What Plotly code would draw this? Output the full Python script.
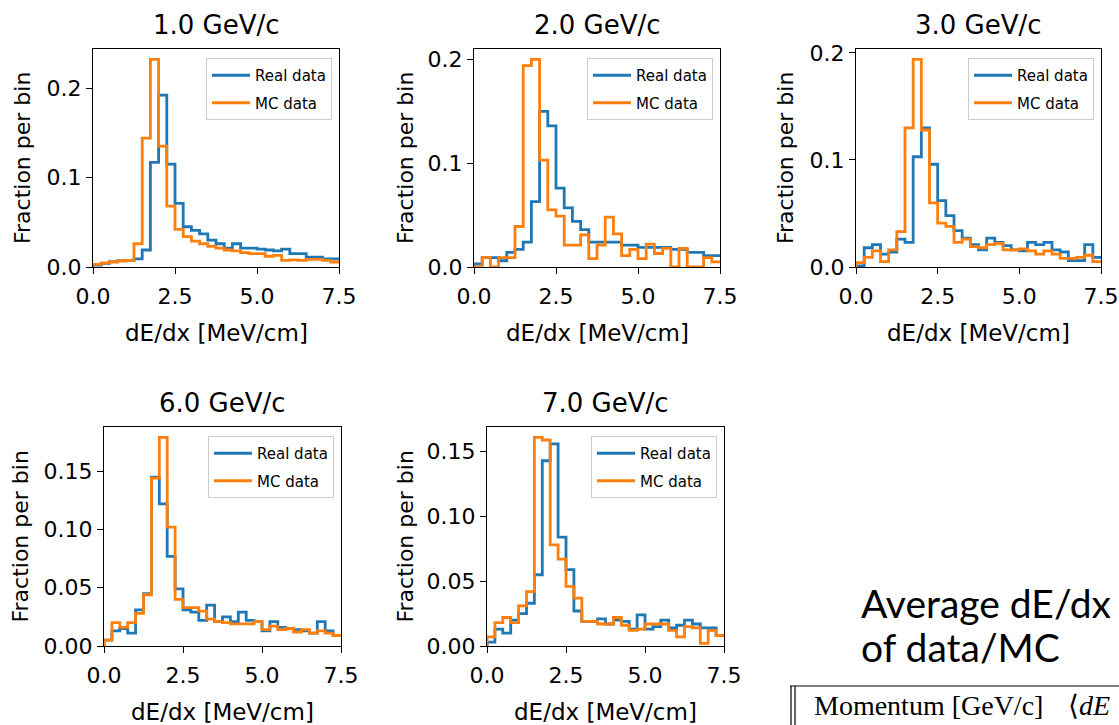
import numpy as np
import plotly.graph_objects as go

W, H = 1119, 725

momenta = ["1.0 GeV/c", "2.0 GeV/c", "3.0 GeV/c", "6.0 GeV/c", "7.0 GeV/c"]
bin_width = 0.25
n_bins = 30

real_1 = [0.002, 0.004, 0.006, 0.007, 0.0075, 0.009, 0.019, 0.117, 0.192, 0.115, 0.071, 0.045, 0.041, 0.037, 0.030,
          0.026, 0.021, 0.026, 0.021, 0.021, 0.020, 0.019, 0.018, 0.020, 0.015, 0.015, 0.011, 0.011, 0.009, 0.009]
mc_1 = [0.003, 0.0045, 0.0056, 0.007, 0.0075, 0.026, 0.144, 0.232, 0.135, 0.068, 0.042, 0.034, 0.029, 0.026, 0.023,
        0.021, 0.019, 0.018, 0.016, 0.015, 0.015, 0.012, 0.013, 0.0075, 0.008, 0.0075, 0.0086, 0.0086, 0.0075, 0.0056]

real_2 = [0.003, 0.009, 0.009, 0.006, 0.014, 0.017, 0.024, 0.063, 0.150, 0.136, 0.076, 0.057, 0.044, 0.036, 0.024,
          0.024, 0.024, 0.024, 0.021, 0.021, 0.019, 0.019, 0.019, 0.019, 0.017, 0.017, 0.014, 0.014, 0.011, 0.011]
mc_2 = [0.0, 0.009, 0.0, 0.009, 0.009, 0.039, 0.194, 0.200, 0.103, 0.055, 0.049, 0.021, 0.021, 0.031, 0.008,
        0.021, 0.048, 0.032, 0.011, 0.017, 0.008, 0.022, 0.013, 0.018, 0.0, 0.018, 0.0, 0.0, 0.009, 0.005]

real_3 = [0.001, 0.018, 0.021, 0.012, 0.014, 0.026, 0.023, 0.103, 0.130, 0.096, 0.062, 0.048, 0.034, 0.027, 0.021,
          0.016, 0.027, 0.023, 0.020, 0.016, 0.015, 0.023, 0.021, 0.023, 0.016, 0.014, 0.006, 0.006, 0.021, 0.009]
mc_3 = [0.004, 0.009, 0.015, 0.005, 0.016, 0.033, 0.130, 0.194, 0.128, 0.060, 0.041, 0.038, 0.023, 0.026, 0.019,
        0.018, 0.021, 0.022, 0.016, 0.016, 0.017, 0.015, 0.012, 0.015, 0.012, 0.008, 0.008, 0.009, 0.011, 0.005]

real_6 = [0.005, 0.013, 0.015, 0.011, 0.031, 0.045, 0.145, 0.122, 0.077, 0.049, 0.031, 0.029, 0.022, 0.035, 0.021,
          0.025, 0.021, 0.029, 0.022, 0.021, 0.013, 0.021, 0.016, 0.015, 0.014, 0.013, 0.011, 0.021, 0.013, 0.009]
mc_6 = [0.005, 0.020, 0.016, 0.020, 0.028, 0.044, 0.144, 0.179, 0.102, 0.040, 0.033, 0.033, 0.030, 0.023, 0.021,
        0.020, 0.019, 0.019, 0.019, 0.021, 0.014, 0.017, 0.014, 0.015, 0.012, 0.014, 0.011, 0.013, 0.011, 0.009]

real_7 = [0.003, 0.013, 0.010, 0.020, 0.025, 0.033, 0.055, 0.143, 0.156, 0.084, 0.059, 0.027, 0.019, 0.019, 0.021,
          0.017, 0.020, 0.019, 0.013, 0.024, 0.013, 0.015, 0.020, 0.014, 0.016, 0.020, 0.017, 0.014, 0.014, 0.008]
mc_7 = [0.007, 0.018, 0.022, 0.018, 0.031, 0.042, 0.161, 0.159, 0.078, 0.067, 0.046, 0.037, 0.019, 0.019, 0.017,
        0.017, 0.022, 0.016, 0.012, 0.013, 0.017, 0.017, 0.017, 0.012, 0.007, 0.015, 0.014, 0.002, 0.012, 0.008]

real_series = [real_1, real_2, real_3, real_6, real_7]
mc_series = [mc_1, mc_2, mc_3, mc_6, mc_7]

x_ticks = [0.0, 2.5, 5.0, 7.5]
y_ticks = [[0.0, 0.1, 0.2], [0.0, 0.1, 0.2], [0.0, 0.1, 0.2],
           [0.0, 0.05, 0.10, 0.15], [0.0, 0.05, 0.10, 0.15]]
y_fmt = [".1f", ".1f", ".1f", ".2f", ".2f"]

# panel boxes in pixels (left, right, top, bottom) and y-title offset
boxes = [(93, 339, 49, 267), (474, 720, 49, 267), (856, 1101, 49, 267),
         (104, 341, 427, 646), (487, 724, 427, 646)]
ytitle_off = [71, 69, 71, 84, 82]

BLUE = "#1f77b4"
ORANGE = "#ff7f0e"
FONT = "DejaVu Sans"

edges = np.arange(n_bins + 1) * bin_width

def step_xy(vals):
    xs = np.concatenate([[edges[0]], edges])
    ys = np.concatenate([[0.0], vals, [vals[-1]]])
    return xs, ys

fig = go.Figure()
layout = dict(width=W, height=H, margin=dict(l=0, r=0, t=0, b=0, autoexpand=False),
              paper_bgcolor="white", plot_bgcolor="white", showlegend=True,
              font=dict(family=FONT, color="black"))
annotations = []

for i in range(5):
    n = "" if i == 0 else str(i + 1)
    lg = "legend" if i == 0 else f"legend{i + 1}"
    L, R, T, B = boxes[i]
    for name, vals, col in (("Real data", real_series[i], BLUE), ("MC data", mc_series[i], ORANGE)):
        xs, ys = step_xy(np.array(vals))
        fig.add_trace(go.Scatter(x=xs, y=ys, mode="lines", name=name,
                                 line=dict(color=col, width=2.8, shape="hv"),
                                 xaxis="x" + n, yaxis="y" + n, legend=lg,
                                 legendgroup=f"{lg}_{name}", cliponaxis=True))
    ymax = max(max(real_series[i]), max(mc_series[i])) * 1.05
    ax = dict(showline=True, linecolor="black", linewidth=1.3, mirror=True,
              ticks="outside", ticklen=6, tickwidth=1.3, tickcolor="black",
              showgrid=False, zeroline=False, tickfont=dict(family=FONT, size=22, color="black"),
              ticklabeloverflow="allow")
    layout["xaxis" + n] = dict(ax, domain=[L / W, R / W], range=[0, 7.5],
                               tickvals=x_ticks, tickformat=".1f", anchor="y" + n,
                               ticklabelstandoff=3)
    layout["yaxis" + n] = dict(ax, domain=[1 - B / H, 1 - T / H], range=[0, ymax],
                               tickvals=y_ticks[i], tickformat=y_fmt[i], anchor="x" + n)
    layout[lg] = dict(x=(R - 7) / W, y=1 - (T + 9) / H, xanchor="right", yanchor="top",
                      bgcolor="rgba(255,255,255,0.85)", bordercolor="#cccccc", borderwidth=1,
                      font=dict(family=FONT, size=15, color="black"), tracegroupgap=5,
                      itemwidth=38)
    cx = (L + R) / 2
    annotations.append(dict(text=momenta[i], x=cx / W, y=1 - (T - 24) / H, xref="paper", yref="paper",
                            xanchor="center", yanchor="middle", showarrow=False,
                            font=dict(family=FONT, size=26, color="black")))
    annotations.append(dict(text="dE/dx [MeV/cm]", x=cx / W, y=1 - (B + 66) / H, xref="paper", yref="paper",
                            xanchor="center", yanchor="middle", showarrow=False,
                            font=dict(family=FONT, size=23, color="black")))
    annotations.append(dict(text="Fraction per bin", x=(L - ytitle_off[i]) / W, y=1 - ((T + B) / 2) / H,
                            xref="paper", yref="paper", xanchor="center", yanchor="middle",
                            textangle=-90, showarrow=False,
                            font=dict(family=FONT, size=22, color="black")))

annotations.append(dict(text="Average dE/dx", x=859 / W, y=1 - 603 / H, xref="paper", yref="paper",
                        xanchor="left", yanchor="middle", showarrow=False,
                        font=dict(family="Lato", size=39, color="black")))
annotations.append(dict(text="of data/MC", x=859 / W, y=1 - 647 / H, xref="paper", yref="paper",
                        xanchor="left", yanchor="middle", showarrow=False,
                        font=dict(family="Lato", size=39, color="black")))
annotations.append(dict(text="Momentum [GeV/c]", x=812 / W, y=1 - 705 / H,
                        xref="paper", yref="paper", xanchor="left", yanchor="middle", showarrow=False,
                        font=dict(family="Liberation Serif", size=28, color="black")))
annotations.append(dict(text="⟨<i>dE</i>", x=1066 / W, y=1 - 705 / H,
                        xref="paper", yref="paper", xanchor="left", yanchor="middle", showarrow=False,
                        font=dict(family="Liberation Serif", size=28, color="black")))

shapes = [
    dict(type="line", xref="paper", yref="paper", x0=790 / W, x1=1.0, y0=1 - 686 / H, y1=1 - 686 / H,
         line=dict(color="black", width=1.2)),
    dict(type="line", xref="paper", yref="paper", x0=791 / W, x1=791 / W, y0=1 - 686 / H, y1=0,
         line=dict(color="black", width=1.2)),
    dict(type="line", xref="paper", yref="paper", x0=795 / W, x1=795 / W, y0=1 - 686 / H, y1=0,
         line=dict(color="black", width=1.2)),
]

layout["annotations"] = annotations
layout["shapes"] = shapes
fig.update_layout(**layout)
fig.write_html("out.html")
